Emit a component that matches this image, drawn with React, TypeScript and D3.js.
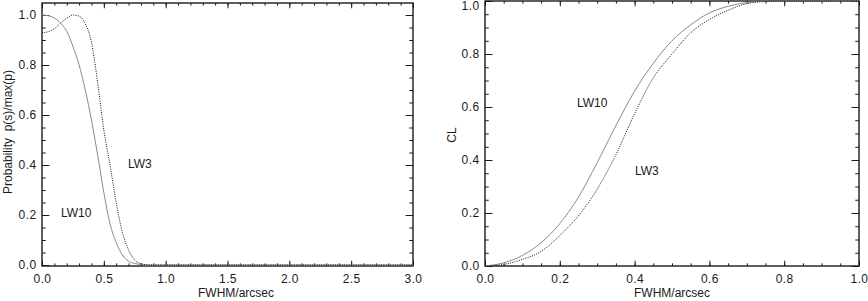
import React, { useEffect, useRef } from 'react'
import * as d3 from 'd3'

// left panel: normalised probability vs FWHM
const probX = [0, 0.05, 0.1, 0.15, 0.2, 0.25, 0.3, 0.35, 0.4, 0.45, 0.5, 0.55, 0.6, 0.65, 0.7, 0.75, 0.8, 0.85, 0.9, 1.0, 1.5, 2.0, 2.5, 3.0]
const probLW10 = [1.0, 0.997, 0.988, 0.967, 0.935, 0.875, 0.8, 0.7, 0.58, 0.44, 0.29, 0.165, 0.09, 0.04, 0.015, 0.006, 0.002, 0, 0, 0, 0, 0, 0, 0]
const probLW3 = [0.929, 0.933, 0.945, 0.967, 0.987, 1.0, 0.995, 0.965, 0.89, 0.73, 0.54, 0.4, 0.25, 0.13, 0.06, 0.02, 0.005, 0.001, 0, 0, 0, 0, 0, 0]

// right panel: confidence level vs FWHM
const clX = [0, 0.05, 0.1, 0.15, 0.2, 0.25, 0.3, 0.35, 0.4, 0.45, 0.5, 0.55, 0.6, 0.65, 0.7, 0.75, 0.8, 0.9, 1.0]
const clLW10 = [0, 0.012, 0.04, 0.088, 0.16, 0.26, 0.39, 0.53, 0.66, 0.765, 0.85, 0.91, 0.955, 0.98, 0.994, 0.999, 1.0, 1.0, 1.0]
const clLW3 = [0, 0.006, 0.025, 0.055, 0.115, 0.19, 0.29, 0.42, 0.575, 0.71, 0.8, 0.88, 0.93, 0.965, 0.99, 0.998, 1.0, 1.0, 1.0]

const leftXTicks = [0, 0.5, 1.0, 1.5, 2.0, 2.5, 3.0]
const unitTicks = [0, 0.2, 0.4, 0.6, 0.8, 1.0]

const panels = [
  {
    left: 42, right: 413, top: 3, bottom: 266,
    xDomain: [0, 3], yDomain: [-0.004, 1.048],
    xMajor: leftXTicks, xMinorStep: 0.1, yMajor: unitTicks, yMinorStep: 0.05,
    xs: probX, solid: probLW10, dotted: probLW3,
    xTitle: 'FWHM/arcsec', xTitleX: 236,
    yTitle: 'Probability  p(s)/max(p)', yTitleX: 8, yTitleY: 132,
    labels: [{ text: 'LW3', x: 128, y: 168 }, { text: 'LW10', x: 61, y: 217 }],
  },
  {
    left: 485, right: 859, top: 1, bottom: 266,
    xDomain: [0, 1], yDomain: [0, 1],
    xMajor: unitTicks, xMinorStep: 0.05, yMajor: unitTicks, yMinorStep: 0.05,
    xs: clX, solid: clLW10, dotted: clLW3,
    xTitle: 'FWHM/arcsec', xTitleX: 672,
    yTitle: 'CL', yTitleX: 452, yTitleY: 135,
    labels: [{ text: 'LW10', x: 577, y: 107 }, { text: 'LW3', x: 635, y: 175 }],
  },
]

const ink = '#1a1a1a'
const font = '"Liberation Sans", Arial, sans-serif'

function minors(domain: number[], step: number) {
  const out: number[] = []
  const n = Math.round((domain[1] - domain[0]) / step)
  for (let i = 0; i <= n; i++) out.push(+(domain[0] + i * step).toFixed(4))
  return out
}

export default function App() {
  const ref = useRef<SVGSVGElement>(null)

  useEffect(() => {
    const svg = d3.select(ref.current)
    svg.selectAll('*').remove()

    panels.forEach(p => {
      const x = d3.scaleLinear().domain(p.xDomain).range([p.left, p.right])
      const y = d3.scaleLinear().domain(p.yDomain).range([p.bottom, p.top])
      const w = p.right - p.left
      const h = p.bottom - p.top
      const xLen = h * 0.02
      const yLen = w * 0.02
      const yMinorVals = minors([0, p.yDomain[1] > 1 ? 1.05 : 1], p.yMinorStep).filter(v => v >= p.yDomain[0] && v <= p.yDomain[1])
      const xMinorVals = minors(p.xDomain, p.xMinorStep)
      const g = svg.append('g')

      const style = (sel: any) => {
        sel.selectAll('.domain').remove()
        sel.selectAll('line').attr('stroke', ink).attr('stroke-width', 1)
        sel.selectAll('text').attr('fill', ink).attr('font-size', 12)
          .attr('font-family', font).attr('letter-spacing', 0.4)
      }

      // bottom
      g.append('g').attr('transform', `translate(0,${p.bottom})`)
        .call(d3.axisBottom(x).tickValues(xMinorVals).tickSize(-xLen / 2).tickFormat(() => '')).call(style)
      g.append('g').attr('transform', `translate(0,${p.bottom})`)
        .call(d3.axisBottom(x).tickValues(p.xMajor).tickSize(-xLen).tickPadding(8.5).tickFormat(d3.format('.1f'))).call(style)
      // top
      g.append('g').attr('transform', `translate(0,${p.top})`)
        .call(d3.axisTop(x).tickValues(xMinorVals).tickSize(-xLen / 2).tickFormat(() => '')).call(style)
      g.append('g').attr('transform', `translate(0,${p.top})`)
        .call(d3.axisTop(x).tickValues(p.xMajor).tickSize(-xLen).tickFormat(() => '')).call(style)
      // left
      g.append('g').attr('transform', `translate(${p.left},0)`)
        .call(d3.axisLeft(y).tickValues(yMinorVals).tickSize(-yLen / 2).tickFormat(() => '')).call(style)
      const yAxis = g.append('g').attr('transform', `translate(${p.left},0)`)
        .call(d3.axisLeft(y).tickValues(p.yMajor).tickSize(-yLen).tickPadding(5.5).tickFormat(d3.format('.1f'))).call(style)
      // keep the top label inside the picture
      yAxis.selectAll('text').attr('y', (d: any) => Math.max(0, 6 - y(d)))
      // right
      g.append('g').attr('transform', `translate(${p.right},0)`)
        .call(d3.axisRight(y).tickValues(yMinorVals).tickSize(-yLen / 2).tickFormat(() => '')).call(style)
      g.append('g').attr('transform', `translate(${p.right},0)`)
        .call(d3.axisRight(y).tickValues(p.yMajor).tickSize(-yLen).tickFormat(() => '')).call(style)

      g.append('rect')
        .attr('x', p.left).attr('y', p.top).attr('width', w).attr('height', h)
        .attr('fill', 'none').attr('stroke', ink).attr('stroke-width', 1.4)

      const line = (vals: number[]) => d3.line<number>()
        .x((_, i) => x(p.xs[i]))
        .y(d => y(d))
        .curve(d3.curveMonotoneX)(vals)

      g.append('path').attr('d', line(p.solid)).attr('fill', 'none')
        .attr('stroke', '#8a8a8a').attr('stroke-width', 1)
      g.append('path').attr('d', line(p.dotted)).attr('fill', 'none')
        .attr('stroke', '#111').attr('stroke-width', 1).attr('stroke-dasharray', '1,1.3')

      g.append('text').attr('x', p.xTitleX).attr('y', 297).attr('text-anchor', 'middle')
        .attr('font-size', 12).attr('font-family', font).attr('fill', ink).text(p.xTitle)
      g.append('text')
        .attr('transform', `translate(${p.yTitleX},${p.yTitleY}) rotate(-90)`)
        .attr('text-anchor', 'middle').attr('dy', '0.35em')
        .style('white-space', 'pre')
        .attr('font-size', 12).attr('font-family', font).attr('fill', ink).text(p.yTitle)

      p.labels.forEach(l => {
        g.append('text').attr('x', l.x).attr('y', l.y)
          .attr('font-size', 12).attr('font-family', font).attr('fill', ink).text(l.text)
      })
    })
  }, [])

  return (
    <svg ref={ref} width={868} height={301}
      style={{ position: 'absolute', left: 0, top: 0, background: '#fff' }} />
  )
}
